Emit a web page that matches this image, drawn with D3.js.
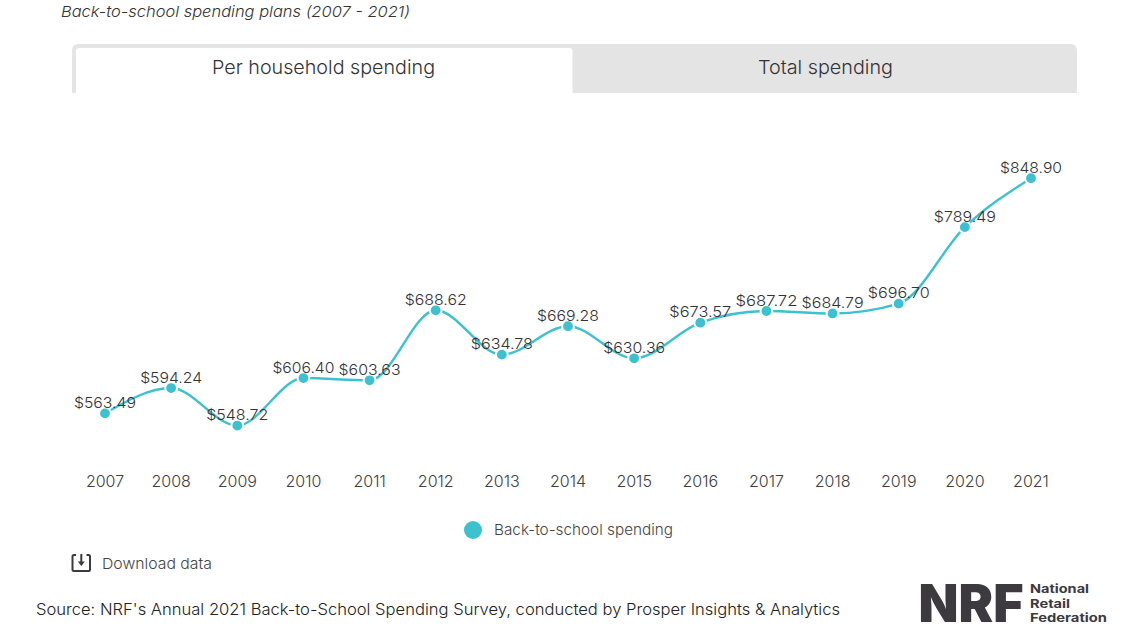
<!DOCTYPE html>
<html><head><meta charset="utf-8">
<script src="https://cdnjs.cloudflare.com/ajax/libs/d3/7.8.5/d3.min.js"></script>
<style>html,body{margin:0;padding:0;background:#fff}svg{display:block}text{font-family:Inter,Lato,sans-serif;font-weight:300}</style>
</head><body><div id="c"></div>
<script>
const years=["2007","2008","2009","2010","2011","2012","2013","2014","2015","2016","2017","2018","2019","2020","2021"];
const spending=[563.49,594.24,548.72,606.40,603.63,688.62,634.78,669.28,630.36,673.57,687.72,684.79,696.70,789.49,848.90];
const tabs=["Per household spending","Total spending"];
const seriesName="Back-to-school spending";
const W=1142,H=639,teal="#3bc1cf",ink="#333336";
const svg=d3.select("#c").append("svg").attr("width",W).attr("height",H);
const x=d3.scalePoint().domain(years).range([105,1031]);
const y=d3.scaleLinear().domain([563.49,848.90]).range([413.4,178.2]);
const txt=(s,px,py,fs,fill,anchor,len,extra)=>{const t=svg.append("text").attr("x",px).attr("y",py).attr("font-size",fs).attr("fill",fill).attr("text-anchor",anchor||"start").text(s);if(len)t.attr("textLength",len).attr("lengthAdjust","spacingAndGlyphs");if(extra)extra(t);return t;};
txt("Back-to-school spending plans (2007 - 2021)",61,17,15,"#333","start",349,t=>t.attr("font-style","italic"));
// tabs
svg.append("path").attr("d","M72 93V50a6 6 0 0 1 6-6H1071a6 6 0 0 1 6 6V93Z").attr("fill","#e4e4e4");
svg.append("path").attr("d","M76 93V51a3 3 0 0 1 3-3H569.500a3 3 0 0 1 3 3V93Z").attr("fill","#fff");
txt(tabs[0],212,74,19,"#333","start",223);
txt(tabs[1],758,74,19,"#333","start",135);
// line
const line=d3.line().x((d,i)=>x(years[i])).y(d=>y(d)).curve(d3.curveMonotoneX);
svg.append("path").attr("d",line(spending)).attr("fill","none").attr("stroke",teal).attr("stroke-width",2.4);
svg.selectAll("circle.pt").data(spending).join("circle").attr("class","pt")
 .attr("cx",(d,i)=>x(years[i])).attr("cy",d=>y(d)).attr("r",5.9).attr("fill",teal).attr("stroke","#fff").attr("stroke-width",2);
svg.selectAll("text.val").data(spending).join("text").attr("class","val")
 .attr("x",(d,i)=>x(years[i])).attr("y",d=>y(d)-5.5).attr("text-anchor","middle").attr("font-size",15).attr("fill",ink)
 .attr("textLength",62).attr("lengthAdjust","spacingAndGlyphs")
 .text(d=>d3.format("$.2f")(d));
// axis
const axis=svg.append("g").attr("transform","translate(-0.5,487)").call(d3.axisBottom(x).tickSize(0).tickPadding(0));
axis.select(".domain").remove();
axis.selectAll("text").attr("font-size",16).attr("fill","#404040").attr("dy",0).attr("y",0).style("font-family","Inter,Lato,sans-serif").style("font-weight",300);
// legend
svg.append("circle").attr("cx",473).attr("cy",530).attr("r",9).attr("fill",teal);
txt(seriesName,494,535,15,"#444","start",179);
// download
const ic=svg.append("g").attr("fill","none").attr("stroke","#3a3a3e").attr("stroke-width",2);
ic.append("path").attr("d","M76 555H74a1.500 1.500 0 0 0-1.500 1.500V569.500a1.500 1.500 0 0 0 1.500 1.500H88.500a1.500 1.500 0 0 0 1.500-1.500V556.500a1.500 1.500 0 0 0-1.500-1.500H86.500");
ic.append("path").attr("d","M81.300 554V563");
svg.append("path").attr("d","M77.800 561.500H84.800L81.300 566Z").attr("fill","#3a3a3e");
txt("Download data",102,569,15,"#444","start",110);
txt("Source: NRF's Annual 2021 Back-to-School Spending Survey, conducted by Prosper Insights & Analytics",36,615,15.5,"#222","start",804);
// logo
svg.append("text").attr("x",918.500).attr("y",622).attr("font-size",52).attr("fill","#3c3a3f").attr("textLength",105).attr("lengthAdjust","spacingAndGlyphs").style("font-family","Inter,'Liberation Sans'").style("font-weight",900).text("NRF");
[["National",59],["Retail",40],["Federation",77]].forEach(([s,w],i)=>txt(s,1030,593.3+i*14.2,11.7,"#3c3a3f","start",w,t=>t.style("font-weight",700)));
</script></body></html>
